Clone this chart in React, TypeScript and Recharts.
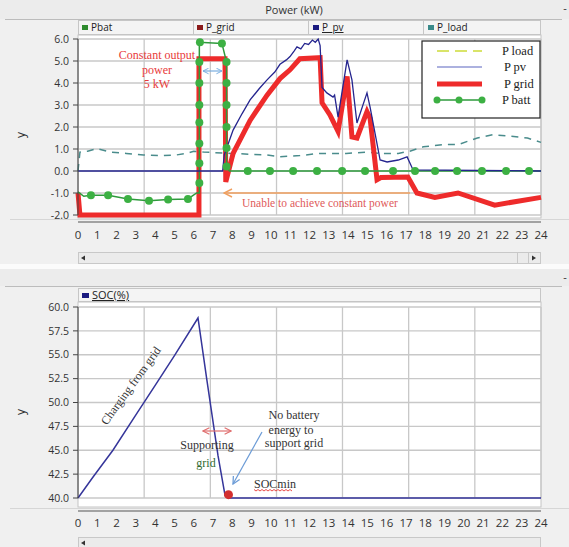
import React from "react";
import { LineChart, Line, XAxis, YAxis, CartesianGrid, ReferenceDot } from "recharts";

// axis values
const hourTicks = [0, 1, 2, 3, 4, 5, 6, 7, 8, 9, 10, 11, 12, 13, 14, 15, 16, 17, 18, 19, 20, 21, 22, 23, 24];
const gridSplits = [0, 3.43, 6.86, 10.29, 13.71, 17.14, 20.57, 24];
const powerTicks = [-2, -1, 0, 1, 2, 3, 4, 5, 6];
const socTicks = [40, 42.5, 45, 47.5, 50, 52.5, 55, 57.5, 60];

// P_grid (kW)
const gridT = [0, 0.1, 6.27, 6.27, 7.62, 7.66, 8.04, 8.92, 9.8, 10.47, 10.99, 11.5, 12.55, 12.65, 13.06, 13.48, 13.95, 14.2, 14.46, 14.98, 15.14, 15.5, 15.7, 17.1, 17.57, 18.5, 19.7, 21.6, 24];
const gridKw = [-1.0, -2.0, -2.0, 5.1, 5.1, -0.5, 0.8, 2.3, 3.45, 4.2, 4.6, 5.1, 5.15, 3.1, 2.55, 1.8, 4.3, 1.55, 1.5, 2.7, 2.4, -0.4, -0.3, -0.27, -1.0, -1.2, -1.0, -1.55, -1.2];

// P_pv (kW)
const pvT = [0, 7.5, 7.58, 8.04, 8.5, 8.92, 9.4, 9.8, 10.2, 10.47, 10.8, 10.99, 11.2, 11.35, 11.55, 11.75, 11.95, 12.15, 12.3, 12.45, 12.55, 12.65, 12.9, 13.22, 13.3, 13.48, 13.95, 14.2, 14.46, 14.98, 15.14, 15.66, 16.02, 16.6, 17.06, 17.37, 24];
const pvKw = [0, 0, 0.73, 1.86, 2.6, 3.23, 3.75, 4.14, 4.5, 4.85, 5.05, 5.2, 5.45, 5.64, 5.55, 5.8, 5.75, 5.95, 5.85, 6.0, 5.7, 3.8, 3.55, 3.36, 3.45, 2.45, 5.05, 4.14, 2.18, 3.55, 2.9, 0.5, 0.41, 0.5, 0.64, 0.05, 0];

// P_load (kW)
const loadT = [0, 0.1, 0.5, 0.98, 1.66, 2.5, 3.4, 4.2, 5.1, 5.65, 6.0, 6.5, 7.9, 9.8, 10.47, 11.5, 12.5, 13.9, 14.98, 15.66, 16.6, 17.2, 17.9, 18.9, 19.7, 20.7, 21.5, 22.2, 23.3, 24];
const loadKw = [0, 0.86, 0.9, 1.02, 0.86, 0.8, 0.73, 0.7, 0.73, 0.8, 0.9, 0.86, 0.8, 0.73, 0.65, 0.7, 0.8, 0.8, 0.86, 0.8, 0.8, 0.9, 1.1, 1.2, 1.2, 1.5, 1.65, 1.6, 1.5, 1.3];

// Pbat (kW), line and sampled markers
const batT = [0, 0.3, 0.67, 1.56, 2.59, 3.68, 4.67, 5.7, 6.15, 6.29, 6.29, 7.46, 7.7, 7.7, 7.85, 24];
const batKw = [-0.95, -1.15, -1.1, -1.1, -1.27, -1.35, -1.3, -1.27, -1.0, -1.0, 5.85, 5.8, 4.95, 0.2, 0, 0];
const batDotT = [0.67, 1.56, 2.59, 3.68, 4.67, 5.7, 6.29, 6.29, 6.29, 6.29, 6.29, 6.29, 6.29, 6.32, 7.46, 7.7, 7.7, 7.7, 7.7, 7.7, 7.7, 8.8, 9.95, 11.15, 12.39, 13.69, 14.88, 16.33, 17.47, 18.51, 19.65, 20.94, 22.19, 23.38];
const batDotKw = [-1.1, -1.1, -1.27, -1.35, -1.3, -1.27, -0.55, 0.35, 1.25, 2.2, 3.0, 4.0, 4.95, 5.85, 5.8, 4.95, 4.0, 3.0, 2.0, 1.05, 0.2, 0, 0, 0, 0, 0, 0, 0, 0, 0, 0, 0, 0, 0];

// SOC (%)
const socT = [0, 0.78, 1.81, 3.0, 4.0, 5.0, 6.22, 6.67, 7.26, 7.62, 7.8, 24];
const socPct = [40, 42.2, 45, 48.7, 51.8, 54.9, 58.85, 52.5, 44.4, 40.3, 40.0, 40.0];
const socMin = { t: 7.8, pct: 40.35 };

const toPoints = (xs: number[], ys: number[]) => xs.map((x, i) => ({ x, y: ys[i] }));

const SANS = "'Open Sans', 'DejaVu Sans', sans-serif";
const SERIF = "'Liberation Serif', 'DejaVu Serif', serif";

const xTick = { fill: "#333", fontSize: 11.5, fontFamily: SANS };
const yTick = { fill: "#333", fontSize: 10.5, fontFamily: SANS };

// vertical grid at the split values, through the chart's own plot offset
const splitLines = ({ offset }: any) => gridSplits.map((v) => offset.left + (v / 24) * offset.width);

function Background() {
  const tab = (x: number, color: string, label: string, underline = false) => (
    <g key={label}>
      <rect x={x} y={25} width={6} height={5} fill={color} />
      <text x={x + 9} y={31} fontSize={10} fontFamily={SANS} fill="#222" textDecoration={underline ? "underline" : undefined}>
        {label}
      </text>
    </g>
  );
  return (
    <svg width={569} height={547} style={{ position: "absolute", left: 0, top: 0 }}>
      <rect x={0} y={0} width={569} height={547} fill="#f0f0f0" />
      {/* top panel */}
      <rect x={0} y={0} width={569} height={19} fill="#ececec" />
      <line x1={5} x2={562} y1={19.5} y2={19.5} stroke="#bcbcbc" />
      <text x={294} y={14} textAnchor="middle" fontSize={11} fontFamily={SANS} fill="#333">Power (kW)</text>
      <text x={565} y={12} textAnchor="middle" fontSize={11} fontFamily={SANS} fill="#333">-</text>
      <rect x={78.5} y={20.5} width={462} height={14} fill="#f4f4f4" stroke="#c6c6c6" />
      {[193.5, 308.5, 423.5].map((x) => (
        <line key={x} x1={x} x2={x} y1={20.5} y2={34.5} stroke="#c6c6c6" />
      ))}
      {tab(82, "#2e8b2e", "Pbat")}
      {tab(197, "#8b1a1a", "P_grid")}
      {tab(313, "#1a1a80", "P_pv", true)}
      {tab(428, "#3a8a8a", "P_load")}
      <rect x={78} y={35} width={463} height={183} fill="#fff" stroke="#c4c4c4" />
      <line x1={10} x2={569} y1={219.5} y2={219.5} stroke="#d6d6d6" />
      <rect x={78.5} y={252.5} width={462} height={11} fill="#ebebeb" stroke="#c8c8c8" />
      <polygon points="81,258 85,255.5 85,260.5" fill="#333" />
      <line x1={517.5} x2={517.5} y1={252.5} y2={263.5} stroke="#c8c8c8" />
      <line x1={528.5} x2={528.5} y1={252.5} y2={263.5} stroke="#c8c8c8" />
      <polygon points="532,255.5 536,258 532,260.5" fill="#333" />
      <rect x={0} y={264} width={569} height={5} fill="#fbfbfb" />
      {/* bottom panel */}
      <rect x={0} y={269} width={569} height={17} fill="#ececec" />
      <line x1={5} x2={562} y1={286.5} y2={286.5} stroke="#bcbcbc" />
      <text x={565} y={281} textAnchor="middle" fontSize={11} fontFamily={SANS} fill="#333">-</text>
      <rect x={78.5} y={288.5} width={462} height={13} fill="#f4f4f4" stroke="#c6c6c6" />
      <rect x={82} y={293} width={7} height={5} fill="#1a1a80" />
      <text x={92} y={299} fontSize={11} fontFamily={SANS} fill="#222" textDecoration="underline">SOC(%)</text>
      <rect x={78} y={302} width={463} height={205} fill="#fff" stroke="#c4c4c4" />
      <line x1={10} x2={569} y1={508.5} y2={508.5} stroke="#d6d6d6" />
      <rect x={78.5} y={537.5} width={462} height={11} fill="#ebebeb" stroke="#c8c8c8" />
      <polygon points="81,543 85,540.5 85,545.5" fill="#333" />
    </svg>
  );
}

function PowerChart() {
  return (
    <div style={{ position: "absolute", left: 0, top: 0 }}>
      <LineChart width={569} height={262} margin={{ top: 39, right: 28, bottom: 0, left: 0 }}>
        <CartesianGrid xAxisId="a" yAxisId="p" stroke="#c8c8c8" strokeWidth={1.3} verticalCoordinatesGenerator={splitLines} />
        <XAxis xAxisId="b" type="number" dataKey="x" domain={[0, 24]} ticks={gridSplits} interval={0} height={40}
          axisLine={{ stroke: "#555" }} tickLine={{ stroke: "#555" }} tickSize={4} tickFormatter={() => ""} />
        <XAxis xAxisId="a" type="number" dataKey="x" domain={[0, 24]} ticks={hourTicks} interval={0} height={7}
          axisLine={false} tickLine={false} tickSize={0} tickMargin={16} tick={xTick} />
        <YAxis yAxisId="p" type="number" domain={[-2, 6]} ticks={powerTicks} interval={0} width={78}
          tickSize={5} tickMargin={4} axisLine={{ stroke: "#444" }} tickLine={{ stroke: "#444" }}
          tickFormatter={(v: number) => v.toFixed(1)} tick={yTick} />
        <Line xAxisId="a" yAxisId="p" data={toPoints(loadT, loadKw)} dataKey="y" type="linear" stroke="#4a8c8c"
          strokeWidth={1.5} strokeDasharray="7 6" dot={false} isAnimationActive={false} />
        <Line xAxisId="a" yAxisId="p" data={toPoints(gridT, gridKw)} dataKey="y" type="linear" stroke="#ee2b2b"
          strokeWidth={5} strokeLinejoin="miter" dot={false} isAnimationActive={false} />
        <Line xAxisId="a" yAxisId="p" data={toPoints(batT, batKw)} dataKey="y" type="linear" stroke="#2e9a3c"
          strokeWidth={1.5} dot={false} isAnimationActive={false} />
        <Line xAxisId="a" yAxisId="p" data={toPoints(pvT, pvKw)} dataKey="y" type="linear" stroke="#25258f"
          strokeWidth={1.3} dot={false} isAnimationActive={false} />
        <Line xAxisId="a" yAxisId="p" data={toPoints(batDotT, batDotKw)} dataKey="y" type="linear" stroke="none"
          dot={{ r: 4, fill: "#3cb043", stroke: "none" }} isAnimationActive={false} />
      </LineChart>
    </div>
  );
}

function SocChart() {
  return (
    <div style={{ position: "absolute", left: 0, top: 268 }}>
      <LineChart width={569} height={279} margin={{ top: 39, right: 28, bottom: 0, left: 0 }}>
        <CartesianGrid xAxisId="a" yAxisId="s" stroke="#c8c8c8" strokeWidth={1.3} verticalCoordinatesGenerator={splitLines} />
        <XAxis xAxisId="b" type="number" dataKey="x" domain={[0, 24]} ticks={gridSplits} interval={0} height={36}
          axisLine={{ stroke: "#555" }} tickLine={{ stroke: "#555" }} tickSize={4} tickFormatter={() => ""} />
        <XAxis xAxisId="a" type="number" dataKey="x" domain={[0, 24]} ticks={hourTicks} interval={0} height={13}
          axisLine={false} tickLine={false} tickSize={0} tickMargin={21} tick={xTick} />
        <YAxis yAxisId="s" type="number" domain={[40, 60]} ticks={socTicks} interval={0} width={78}
          tickSize={5} tickMargin={4} axisLine={{ stroke: "#444" }} tickLine={{ stroke: "#444" }}
          tickFormatter={(v: number) => v.toFixed(1)} tick={yTick} />
        <Line xAxisId="a" yAxisId="s" data={toPoints(socT, socPct)} dataKey="y" type="linear" stroke="#35359a"
          strokeWidth={1.5} dot={false} isAnimationActive={false} />
        <ReferenceDot xAxisId="a" yAxisId="s" x={socMin.t} y={socMin.pct} r={4.5} fill="#d32f2f" stroke="none" />
      </LineChart>
    </div>
  );
}

function Overlay() {
  const zig: string[] = [];
  for (let x = 254; x < 294; x += 2) zig.push(`${x},${x % 4 === 0 ? 491 : 489.5}`);
  return (
    <svg width={569} height={547} style={{ position: "absolute", left: 0, top: 0, pointerEvents: "none" }}>
      <defs>
        <marker id="headBlue" viewBox="0 0 10 10" refX="9" refY="5" markerWidth="7" markerHeight="7" orient="auto-start-reverse" markerUnits="userSpaceOnUse">
          <path d="M1,1 L9,5 L1,9" fill="none" stroke="#7aaee0" strokeWidth={1.4} />
        </marker>
        <marker id="headOrange" viewBox="0 0 10 10" refX="9" refY="5" markerWidth="10" markerHeight="10" orient="auto-start-reverse" markerUnits="userSpaceOnUse">
          <path d="M1,1 L9,5 L1,9" fill="none" stroke="#f0a060" strokeWidth={1.4} />
        </marker>
        <marker id="headRed" viewBox="0 0 10 10" refX="9" refY="5" markerWidth="8" markerHeight="8" orient="auto-start-reverse" markerUnits="userSpaceOnUse">
          <path d="M1,1 L9,5 L1,9" fill="none" stroke="#e07070" strokeWidth={1.4} />
        </marker>
        <marker id="headArrow" viewBox="0 0 10 10" refX="9" refY="5" markerWidth="9" markerHeight="9" orient="auto-start-reverse" markerUnits="userSpaceOnUse">
          <path d="M1,1 L9,5 L1,9" fill="none" stroke="#6b9bd6" strokeWidth={1.4} />
        </marker>
      </defs>

      {/* y axis titles */}
      <text x={0} y={0} transform="translate(25,135) rotate(-90)" textAnchor="middle" fontSize={12} fontFamily={SANS} fill="#333">y</text>
      <text x={0} y={0} transform="translate(25,412) rotate(-90)" textAnchor="middle" fontSize={12} fontFamily={SANS} fill="#333">y</text>

      {/* legend box */}
      <rect x={422} y={41} width={118} height={77} fill="#fff" stroke="#222" strokeWidth={1.2} />
      <line x1={437} x2={482} y1={51} y2={51} stroke="#cddc39" strokeWidth={1.5} strokeDasharray="12 6" />
      <line x1={437} x2={482} y1={67} y2={67} stroke="#5a64c0" strokeWidth={1.2} />
      <line x1={437} x2={482} y1={84} y2={84} stroke="#ee2b2b" strokeWidth={5} />
      <line x1={437} x2={482} y1={100} y2={100} stroke="#2e9a3c" strokeWidth={1.5} />
      {[437, 459, 482].map((x) => (
        <circle key={x} cx={x} cy={100} r={3.5} fill="#3cb043" />
      ))}
      <g fontFamily={SERIF} fontSize={12.5} fill="#222">
        <text x={502} y={55}>P load</text>
        <text x={504} y={71}>P pv</text>
        <text x={504} y={88}>P grid</text>
        <text x={502} y={104}>P batt</text>
      </g>

      {/* top annotations */}
      <g fontFamily={SERIF} fontSize={12} fill="#e83a3a" textAnchor="middle">
        <text x={157} y={59}>Constant output</text>
        <text x={157} y={74}>power</text>
        <text x={157} y={88}>5 kW</text>
      </g>
      <line x1={203} x2={222} y1={71} y2={71} stroke="#7aaee0" strokeWidth={1.2} markerStart="url(#headBlue)" markerEnd="url(#headBlue)" />
      <line x1={224} x2={410} y1={193} y2={193} stroke="#f0a060" strokeWidth={1.3} markerStart="url(#headOrange)" />
      <text x={242} y={207} fontFamily={SERIF} fontSize={11.5} fill="#e05a5a">Unable to achieve constant power</text>

      {/* bottom annotations */}
      <text x={0} y={0} transform="translate(134,388) rotate(-54)" textAnchor="middle" fontFamily={SERIF} fontSize={12} fill="#333">Charging from grid</text>
      <line x1={203} x2={231} y1={431} y2={431} stroke="#e07070" strokeWidth={1.2} markerStart="url(#headRed)" markerEnd="url(#headRed)" />
      <text x={207} y={449} textAnchor="middle" fontFamily={SERIF} fontSize={12} fill="#333">Supporting</text>
      <text x={206} y={467} textAnchor="middle" fontFamily={SERIF} fontSize={12} fill="#2f6a2f">grid</text>
      <g fontFamily={SERIF} fontSize={12} fill="#333" textAnchor="middle">
        <text x={294} y={419}>No battery</text>
        <text x={291} y={434}>energy to</text>
        <text x={294} y={447}>support grid</text>
      </g>
      <line x1={262} x2={233} y1={432} y2={484} stroke="#6b9bd6" strokeWidth={1.2} markerEnd="url(#headArrow)" />
      <text x={254} y={488} fontFamily={SERIF} fontSize={12} fill="#333">SOCmin</text>
      <polyline points={zig.join(" ")} fill="none" stroke="#e53935" strokeWidth={0.9} />
    </svg>
  );
}

export default function App() {
  return (
    <div style={{ position: "relative", width: 569, height: 547, overflow: "hidden" }}>
      <style>{"body{margin:0}"}</style>
      <Background />
      <PowerChart />
      <SocChart />
      <Overlay />
    </div>
  );
}
